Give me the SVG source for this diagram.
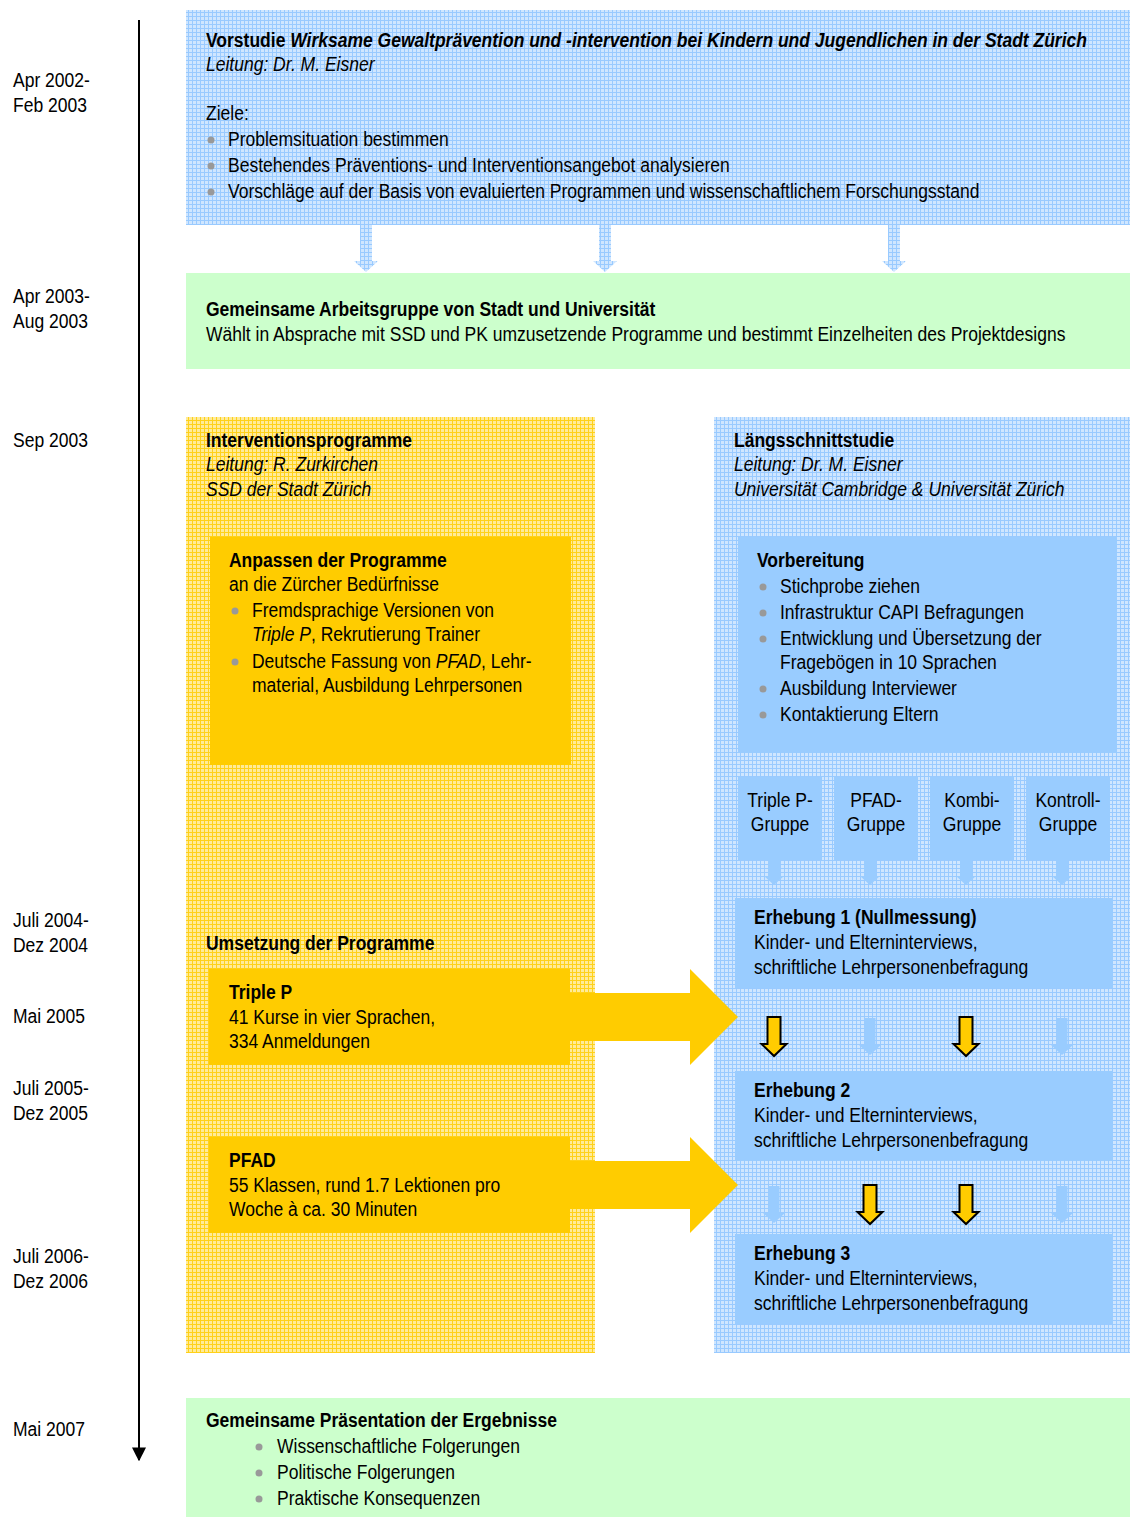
<svg xmlns="http://www.w3.org/2000/svg" width="1130" height="1517" viewBox="0 0 1130 1517">
<defs>
<pattern id="gridBlue" width="4" height="4" patternUnits="userSpaceOnUse">
<rect width="4" height="4" fill="#cfe6ff"/>
<path d="M0 0.5H4M0.5 0V4" stroke="#99caff" stroke-width="1"/>
</pattern>
<pattern id="gridYellow" width="4" height="4" patternUnits="userSpaceOnUse">
<rect width="4" height="4" fill="#ffeb99"/>
<path d="M0 0.5H4M0.5 0V4" stroke="#ffd11a" stroke-width="1"/>
</pattern>
<marker id="tl" viewBox="0 0 10 10" refX="9" refY="5" markerWidth="14" markerHeight="14" markerUnits="userSpaceOnUse" orient="auto">
<path d="M0 0L10 5L0 10Z" fill="#000"/>
</marker>
</defs>
<style>
text{font-family:"Liberation Sans Narrow","Arial Narrow","Liberation Sans",Arial,sans-serif;font-size:20px;fill:#000;transform-box:fill-box;transform-origin:0 50%;transform:translateY(1px) scaleX(0.875)}
.b{font-weight:bold}
.i{font-style:italic}
.m{text-anchor:middle;transform-origin:50% 50%}
.dot{fill:#999}
.blue{fill:url(#gridBlue)}
.yel{fill:url(#gridYellow)}
.sb{fill:#99ccff}
.sy{fill:#ffcc00}
.ya{fill:#ffcc00;stroke:#000;stroke-width:2}
.green{fill:#ccffcc}
</style>

<g id="timeline">
<line x1="139" y1="20" x2="139" y2="1460" stroke="#000" stroke-width="2" marker-end="url(#tl)"/>
<text x="13" y="86">Apr 2002-</text><text x="13" y="111">Feb 2003</text>
<text x="13" y="302">Apr 2003-</text><text x="13" y="327">Aug 2003</text>
<text x="13" y="446">Sep 2003</text>
<text x="13" y="926">Juli 2004-</text><text x="13" y="951">Dez 2004</text>
<text x="13" y="1022">Mai 2005</text>
<text x="13" y="1094">Juli 2005-</text><text x="13" y="1119">Dez 2005</text>
<text x="13" y="1262">Juli 2006-</text><text x="13" y="1287">Dez 2006</text>
<text x="13" y="1435">Mai 2007</text>
</g>

<g id="vorstudie">
<rect x="186" y="10" width="944" height="215" class="blue"/>
<text x="206" y="46" class="b">Vorstudie <tspan class="i">Wirksame Gewaltprävention und -intervention bei Kindern und Jugendlichen in der Stadt Zürich</tspan></text>
<text x="206" y="70" class="i">Leitung: Dr. M. Eisner</text>
<text x="206" y="119">Ziele:</text>
<circle cx="211" cy="140" r="3.5" class="dot"/><text x="228" y="145">Problemsituation bestimmen</text>
<circle cx="211" cy="166" r="3.5" class="dot"/><text x="228" y="171">Bestehendes Präventions- und Interventionsangebot analysieren</text>
<circle cx="211" cy="192" r="3.5" class="dot"/><text x="228" y="197">Vorschläge auf der Basis von evaluierten Programmen und wissenschaftlichem Forschungsstand</text>
</g>

<g id="arbeitsgruppe">
<rect x="186" y="273" width="944" height="96" class="green"/>
<text x="206" y="315" class="b">Gemeinsame Arbeitsgruppe von Stadt und Universität</text>
<text x="206" y="340">Wählt in Absprache mit SSD und PK umzusetzende Programme und bestimmt Einzelheiten des Projektdesigns</text>
</g>

<g id="interventionsprogramme">
<rect x="186" y="417" width="409" height="936" class="yel"/>
<text x="206" y="446" class="b">Interventionsprogramme</text>
<text x="206" y="470" class="i">Leitung: R. Zurkirchen</text>
<text x="206" y="495" class="i">SSD der Stadt Zürich</text>
<text x="206" y="949" class="b">Umsetzung der Programme</text>
</g>

<g id="laengsschnittstudie">
<rect x="714" y="417" width="416" height="936" class="blue"/>
<text x="734" y="446" class="b">Längsschnittstudie</text>
<text x="734" y="470" class="i">Leitung: Dr. M. Eisner</text>
<text x="734" y="495" class="i">Universität Cambridge &amp; Universität Zürich</text>
</g>

<g id="anpassen">
<rect x="210" y="537" width="361" height="228" class="sy"/>
<text x="229" y="566" class="b">Anpassen der Programme</text>
<text x="229" y="590">an die Zürcher Bedürfnisse</text>
<circle cx="235" cy="611" r="3.5" class="dot"/><text x="252" y="616">Fremdsprachige Versionen von</text>
<text x="252" y="640"><tspan class="i">Triple P</tspan>, Rekrutierung Trainer</text>
<circle cx="235" cy="662" r="3.5" class="dot"/><text x="252" y="667">Deutsche Fassung von <tspan class="i">PFAD</tspan>, Lehr-</text>
<text x="252" y="691">material, Ausbildung Lehrpersonen</text>
</g>

<g id="vorbereitung">
<rect x="738" y="537" width="379" height="216" class="sb"/>
<text x="757" y="566" class="b">Vorbereitung</text>
<circle cx="763" cy="587" r="3.5" class="dot"/><text x="780" y="592">Stichprobe ziehen</text>
<circle cx="763" cy="613" r="3.5" class="dot"/><text x="780" y="618">Infrastruktur CAPI Befragungen</text>
<circle cx="763" cy="639" r="3.5" class="dot"/><text x="780" y="644">Entwicklung und Übersetzung der</text>
<text x="780" y="668">Fragebögen in 10 Sprachen</text>
<circle cx="763" cy="689" r="3.5" class="dot"/><text x="780" y="694">Ausbildung Interviewer</text>
<circle cx="763" cy="715" r="3.5" class="dot"/><text x="780" y="720">Kontaktierung Eltern</text>
</g>

<g id="gruppe-triplep"><rect x="738" y="777" width="84" height="83" class="sb"/><text x="780" y="806" class="m">Triple P-</text><text x="780" y="830" class="m">Gruppe</text></g>
<g id="gruppe-pfad"><rect x="834" y="777" width="84" height="83" class="sb"/><text x="876" y="806" class="m">PFAD-</text><text x="876" y="830" class="m">Gruppe</text></g>
<g id="gruppe-kombi"><rect x="930" y="777" width="84" height="83" class="sb"/><text x="972" y="806" class="m">Kombi-</text><text x="972" y="830" class="m">Gruppe</text></g>
<g id="gruppe-kontroll"><rect x="1026" y="777" width="84" height="83" class="sb"/><text x="1068" y="806" class="m">Kontroll-</text><text x="1068" y="830" class="m">Gruppe</text></g>

<g id="erhebung1">
<rect x="735" y="898" width="378" height="90" class="sb"/>
<text x="754" y="923" class="b">Erhebung 1 (Nullmessung)</text>
<text x="754" y="948">Kinder- und Elterninterviews,</text>
<text x="754" y="973">schriftliche Lehrpersonenbefragung</text>
</g>
<g id="erhebung2">
<rect x="735" y="1071" width="378" height="90" class="sb"/>
<text x="754" y="1096" class="b">Erhebung 2</text>
<text x="754" y="1121">Kinder- und Elterninterviews,</text>
<text x="754" y="1146">schriftliche Lehrpersonenbefragung</text>
</g>
<g id="erhebung3">
<rect x="735" y="1234" width="378" height="90" class="sb"/>
<text x="754" y="1259" class="b">Erhebung 3</text>
<text x="754" y="1284">Kinder- und Elterninterviews,</text>
<text x="754" y="1309">schriftliche Lehrpersonenbefragung</text>
</g>

<g id="triplep">
<rect x="209" y="969" width="361" height="96" class="sy"/>
<text x="229" y="998" class="b">Triple P</text>
<text x="229" y="1023">41 Kurse in vier Sprachen,</text>
<text x="229" y="1047">334 Anmeldungen</text>
</g>
<g id="pfad">
<rect x="209" y="1137" width="361" height="96" class="sy"/>
<text x="229" y="1166" class="b">PFAD</text>
<text x="229" y="1191">55 Klassen, rund 1.7 Lektionen pro</text>
<text x="229" y="1215">Woche à ca. 30 Minuten</text>
</g>

<g id="praesentation">
<rect x="186" y="1398" width="944" height="119" class="green"/>
<text x="206" y="1426" class="b">Gemeinsame Präsentation der Ergebnisse</text>
<circle cx="259" cy="1447" r="3.5" class="dot"/><text x="277" y="1452">Wissenschaftliche Folgerungen</text>
<circle cx="259" cy="1473" r="3.5" class="dot"/><text x="277" y="1478">Politische Folgerungen</text>
<circle cx="259" cy="1499" r="3.5" class="dot"/><text x="277" y="1504">Praktische Konsequenzen</text>
</g>

<g id="connectors">
<polygon class="blue" points="360,225 372,225 372,261 378,261 366,272 354,261 360,261"/>
<polygon class="blue" points="599,225 611,225 611,261 617,261 605,272 593,261 599,261"/>
<polygon class="blue" points="888,225 900,225 900,261 906,261 894,272 882,261 888,261"/>

<polygon class="sb" points="768,860 780,860 780,876 784,876 774,885 764,876 768,876"/>
<polygon class="sb" points="864,860 876,860 876,876 880,876 870,885 860,876 864,876"/>
<polygon class="sb" points="960,860 972,860 972,876 976,876 966,885 956,876 960,876"/>
<polygon class="sb" points="1056,860 1068,860 1068,876 1072,876 1062,885 1052,876 1056,876"/>

<polygon class="ya" points="767.5,1017 780.5,1017 780.5,1044 786.5,1044 774,1056 761.5,1044 767.5,1044"/>
<polygon class="sb" points="864.5,1018 875.5,1018 875.5,1045 881,1045 870,1055 859,1045 864.5,1045"/>
<polygon class="ya" points="959.5,1017 972.5,1017 972.5,1044 978.5,1044 966,1056 953.5,1044 959.5,1044"/>
<polygon class="sb" points="1056.5,1018 1067.5,1018 1067.5,1045 1073,1045 1062,1055 1051,1045 1056.5,1045"/>

<polygon class="sb" points="768.5,1186 779.5,1186 779.5,1213 785,1213 774,1223 763,1213 768.5,1213"/>
<polygon class="ya" points="863.5,1185 876.5,1185 876.5,1212 882.5,1212 870,1224 857.5,1212 863.5,1212"/>
<polygon class="ya" points="959.5,1185 972.5,1185 972.5,1212 978.5,1212 966,1224 953.5,1212 959.5,1212"/>
<polygon class="sb" points="1056.5,1186 1067.5,1186 1067.5,1213 1073,1213 1062,1223 1051,1213 1056.5,1213"/>

<polygon class="sy" points="569,993 690,993 690,969 738,1017 690,1065 690,1041 569,1041"/>
<polygon class="sy" points="569,1161 690,1161 690,1137 738,1185 690,1233 690,1209 569,1209"/>
</g>
</svg>
